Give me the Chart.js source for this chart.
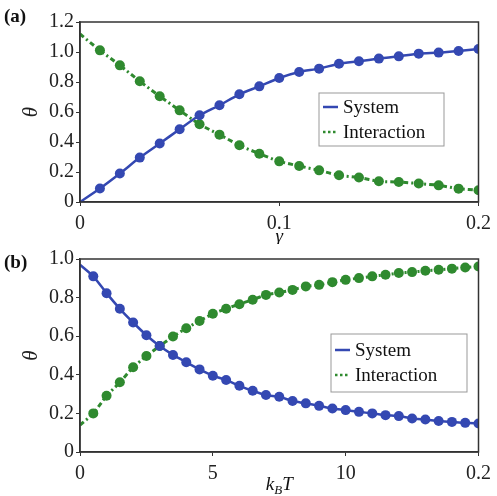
<!DOCTYPE html>
<html>
<head>
<meta charset="utf-8">
<script src="https://cdn.jsdelivr.net/npm/chart.js@4.4.1/dist/chart.umd.min.js"></script>
<style>
  html, body { margin: 0; padding: 0; background: #fff; }
  .panel { position: absolute; left: 0; width: 497px; }
  #panelA { top: 0; height: 244px; }
  #panelB { top: 244px; height: 252px; }
</style>
</head>
<body>
<div class="panel" id="panelA"><canvas id="chartA"></canvas></div>
<div class="panel" id="panelB"><canvas id="chartB"></canvas></div>
<script>
/* ---------- data ---------- */
const gammaValues = [0, 0.01, 0.02, 0.03, 0.04, 0.05, 0.06, 0.07, 0.08, 0.09, 0.10,
  0.11, 0.12, 0.13, 0.14, 0.15, 0.16, 0.17, 0.18, 0.19, 0.20];
const systemA = [0, 0.09, 0.19, 0.296, 0.39, 0.485, 0.578, 0.645, 0.718, 0.771, 0.827,
  0.867, 0.889, 0.922, 0.938, 0.956, 0.971, 0.989, 0.996, 1.007, 1.02];
const interactionA = [1.12, 1.011, 0.911, 0.805, 0.705, 0.611, 0.518, 0.449, 0.378, 0.322, 0.271,
  0.24, 0.211, 0.178, 0.163, 0.138, 0.133, 0.123, 0.111, 0.089, 0.078];

const kTValues = [0, 0.5, 1, 1.5, 2, 2.5, 3, 3.5, 4, 4.5, 5, 5.5, 6, 6.5, 7, 7.5, 8,
  8.5, 9, 9.5, 10, 10.5, 11, 11.5, 12, 12.5, 13, 13.5, 14, 14.5, 15];
const systemB = [0.97, 0.91, 0.823, 0.742, 0.671, 0.605, 0.549, 0.503, 0.465, 0.428, 0.395,
  0.373, 0.343, 0.317, 0.295, 0.286, 0.264, 0.252, 0.239, 0.225, 0.217,
  0.208, 0.2, 0.191, 0.186, 0.174, 0.168, 0.161, 0.156, 0.151, 0.148];
const interactionB = [0.139, 0.2, 0.291, 0.361, 0.439, 0.497, 0.549, 0.598, 0.641, 0.679, 0.716,
  0.742, 0.766, 0.789, 0.814, 0.826, 0.84, 0.858, 0.866, 0.88, 0.892,
  0.901, 0.91, 0.918, 0.927, 0.932, 0.939, 0.944, 0.95, 0.956, 0.961];

const seriesNames = ["System", "Interaction"];
const xTicksA = ["0", "0.1", "0.2"];
const xTicksB = ["0", "5", "10", "0.2"];
const yTicksA = ["0", "0.2", "0.4", "0.6", "0.8", "1.0", "1.2"];
const yTicksB = ["0", "0.2", "0.4", "0.6", "0.8", "1.0"];

/* ---------- styling ---------- */
const BLUE = "#3448b2";
const GREEN = "#2f8a2f";
const AXIS = "#333333";
const SERIF = "'Liberation Serif', 'DejaVu Serif', serif";

function pairs(xs, ys) {
  return xs.map((x, i) => ({ x: x, y: ys[i] }));
}

// no marker on the first (x = 0) sample
const skipFirst = (ctx) => (ctx.dataIndex === 0 ? 0 : 5);

/* frame, panel tag, x title and legend box */
const decorPlugin = {
  id: "decor",
  afterDraw(chart, args, opts) {
    const { ctx, chartArea: a } = chart;
    ctx.save();
    ctx.strokeStyle = AXIS;
    ctx.lineWidth = 1.5;
    ctx.strokeRect(a.left, a.top, a.right - a.left, a.bottom - a.top);

    // panel tag
    ctx.fillStyle = "#111";
    ctx.font = "bold 19px " + SERIF;
    ctx.textBaseline = "middle";
    ctx.textAlign = "left";
    ctx.fillText(opts.tag, 4, opts.tagY);

    // x title (supports one subscript)
    ctx.font = "italic 19px " + SERIF;
    const cx = (a.left + a.right) / 2;
    if (opts.sub) {
      const w1 = ctx.measureText(opts.xTitle[0]).width;
      ctx.font = "italic 13px " + SERIF;
      const ws = ctx.measureText(opts.sub).width;
      ctx.font = "italic 19px " + SERIF;
      const w2 = ctx.measureText(opts.xTitle[1]).width;
      let x = cx - (w1 + ws + w2) / 2;
      ctx.fillText(opts.xTitle[0], x, opts.xTitleY);
      x += w1;
      ctx.font = "italic 13px " + SERIF;
      ctx.fillText(opts.sub, x, opts.xTitleY + 6);
      x += ws;
      ctx.font = "italic 19px " + SERIF;
      ctx.fillText(opts.xTitle[1], x, opts.xTitleY);
    } else {
      ctx.textAlign = "center";
      ctx.fillText(opts.xTitle, cx, opts.xTitleY);
    }

    // legend
    const L = opts.legend;
    ctx.fillStyle = "#fff";
    ctx.fillRect(L.x, L.y, L.w, L.h);
    ctx.strokeStyle = "#999";
    ctx.lineWidth = 1;
    ctx.strokeRect(L.x, L.y, L.w, L.h);
    ctx.font = "19px " + SERIF;
    ctx.textAlign = "left";
    chart.data.datasets.forEach((ds, i) => {
      const y = L.y + L.row0 + i * L.rowGap;
      ctx.strokeStyle = ds.borderColor;
      ctx.lineWidth = 2.5;
      ctx.setLineDash(i === 0 ? [] : [2.5, 2.5]);
      ctx.beginPath();
      ctx.moveTo(L.x + 4, y);
      ctx.lineTo(L.x + 19, y);
      ctx.stroke();
      ctx.setLineDash([]);
      ctx.fillStyle = "#111";
      ctx.fillText(ds.label, L.x + 24, y + 1);
    });
    ctx.restore();
  }
};

function makeChart(id, xs, sys, inter, xOpts, yOpts, decor, pad, xH) {
  return new Chart(document.getElementById(id), {
    type: "line",
    data: {
      datasets: [
        {
          label: seriesNames[0],
          data: pairs(xs, sys),
          borderColor: BLUE,
          backgroundColor: BLUE,
          borderWidth: 2.5,
          pointRadius: skipFirst,
          pointBorderWidth: 0,
          tension: 0.25
        },
        {
          label: seriesNames[1],
          data: pairs(xs, inter),
          borderColor: GREEN,
          backgroundColor: GREEN,
          borderWidth: 3,
          borderDash: [5, 3, 2, 3],
          pointRadius: skipFirst,
          pointBorderWidth: 0,
          tension: 0.25
        }
      ]
    },
    options: {
      responsive: true,
      maintainAspectRatio: false,
      animation: false,
      layout: { padding: pad },
      plugins: { legend: { display: false }, tooltip: { enabled: false }, decor: decor },
      scales: {
        x: {
          type: "linear",
          min: xOpts.min,
          max: xOpts.max,
          grid: { drawOnChartArea: false, tickLength: 4, color: AXIS },
          border: { color: AXIS, width: 1.5 },
          ticks: {
            stepSize: xOpts.step,
            padding: 6,
            color: "#222",
            font: { family: SERIF, size: 20 },
            callback: (v, i) => xOpts.labels[i]
          },
          afterFit: (s) => { s.height = xH; }
        },
        y: {
          min: 0,
          max: yOpts.max,
          grid: { drawOnChartArea: false, tickLength: 4, color: AXIS },
          border: { color: AXIS, width: 1.5 },
          title: {
            display: true,
            text: "θ",
            color: "#222",
            font: { family: SERIF, size: 21, style: "italic" },
            padding: { top: 19, bottom: 0 }
          },
          ticks: {
            stepSize: 0.2,
            padding: 2,
            color: "#222",
            font: { family: SERIF, size: 20 },
            callback: (v, i) => yOpts.labels[i]
          },
          afterFit: (s) => { s.width = 80; }
        }
      }
    },
    plugins: [decorPlugin]
  });
}

makeChart("chartA", gammaValues, systemA, interactionA,
  { min: 0, max: 0.2, step: 0.1, labels: xTicksA },
  { max: 1.2, labels: yTicksA },
  {
    tag: "(a)", tagY: 17, xTitle: "γ", xTitleY: 237,
    legend: { x: 319, y: 93, w: 125, h: 53, row0: 14, rowGap: 25 }
  },
  { left: 0, right: 18, top: 22, bottom: 0 }, 42);

makeChart("chartB", kTValues, systemB, interactionB,
  { min: 0, max: 15, step: 5, labels: xTicksB },
  { max: 1.0, labels: yTicksB },
  {
    tag: "(b)", tagY: 19, xTitle: ["k", "T"], sub: "B", xTitleY: 241,
    legend: { x: 331, y: 90, w: 136, h: 58, row0: 16, rowGap: 25 }
  },
  { left: 0, right: 18, top: 15, bottom: 0 }, 44);
</script>
</body>
</html>
